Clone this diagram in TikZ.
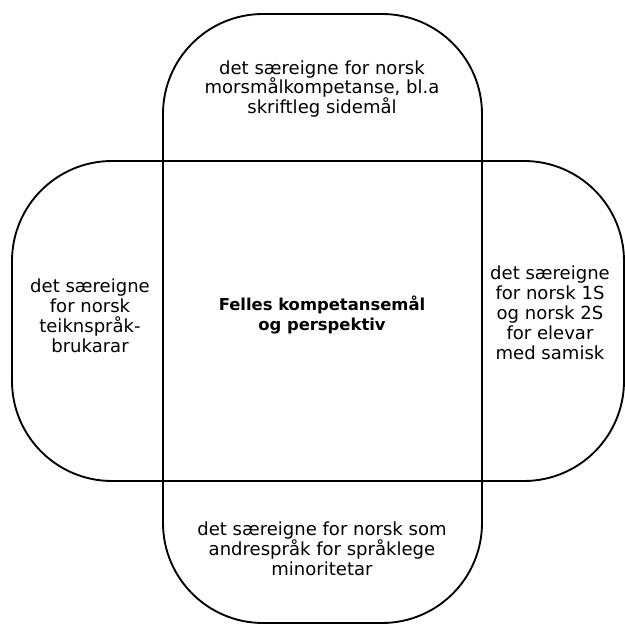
\documentclass[tikz,border=0pt]{standalone}
\usepackage{fontspec}
\setmainfont{DejaVu Sans}
\usepackage{tikz}

\begin{document}
\begin{tikzpicture}[
    box/.style={line width=1.6pt, rounded corners=3cm},
    parttext/.style={align=center, font=\fontsize{15.4}{17}\selectfont},
    coretext/.style={align=center, font=\fontsize{14}{16.5}\selectfont\bfseries}
]
    \useasboundingbox (0,0) rectangle (18.75,18.75);

    \draw[box] (4.89,0.06) rectangle (14.46,18.33);
    \draw[box] (0.36,4.32) rectangle (18.72,13.92);

    \node[parttext] (top) at (9.66,16.08) {det særeigne for norsk\\morsmålkompetanse, bl.a\\skriftleg sidemål};
    \node[parttext] (left) at (2.7,9.27) {det særeigne\\for norsk\\teiknspråk-\\brukarar};
    \node[parttext] (right) at (16.5,9.36) {det særeigne\\for norsk 1S\\og norsk 2S\\for elevar\\med samisk};
    \node[coretext] (core) at (9.66,9.3) {Felles kompetansemål\\og perspektiv};
    \node[parttext] (bottom) at (9.66,2.28) {det særeigne for norsk som\\andrespråk for språklege\\minoritetar};
\end{tikzpicture}
\end{document}
